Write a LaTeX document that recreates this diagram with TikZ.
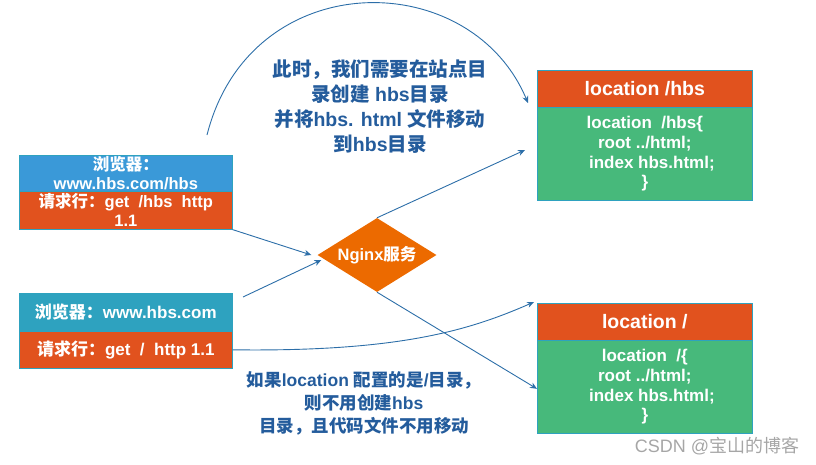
\documentclass[tikz,border=0pt]{standalone}
\usepackage{fontspec}
\setmainfont{Liberation Sans}
\newfontfamily\cjk{Noto Sans CJK SC}
\usetikzlibrary{arrows.meta, positioning, shapes.geometric}
\definecolor{webblue}{HTML}{3A99D8}
\definecolor{webteal}{HTML}{2EA2BF}
\definecolor{reqred}{HTML}{E1521E}
\definecolor{locgreen}{HTML}{47B97B}
\definecolor{ngxorange}{HTML}{EC6A00}
\definecolor{linkblue}{HTML}{2C6EA8}
\definecolor{notetext}{HTML}{245C9C}
\newcommand{\zh}[1]{{\cjk #1}}

\begin{document}
\begin{tikzpicture}[x=1pt, y=-1pt, font=\bfseries,
      cell/.style={draw=webteal, line width=0.6pt, text=white, align=center,
                   inner sep=0pt, anchor=north west},
      arr/.style={-{Stealth[length=7pt, width=6pt]}, draw=linkblue, line width=0.9pt},
      note/.style={align=center, text=notetext, font=\bfseries\fontsize{19.5}{25}\selectfont}]
    \useasboundingbox (0,0) rectangle (816,464);
    % browsers
    \node[cell, fill=webblue, minimum width=213pt, minimum height=36pt,
          font=\bfseries\fontsize{16.5}{19}\selectfont] (b1) at (19,155)
          {\zh{浏览器：}\\www.hbs.com/hbs};
    \node[cell, fill=reqred, minimum width=213pt, minimum height=38pt,
          font=\bfseries\fontsize{16.5}{19}\selectfont] (r1) at (19,191)
          {\zh{请求行：}get\ \ /hbs\ \ http\\1.1};
    \node[cell, fill=webteal, minimum width=213pt, minimum height=38pt,
          font=\bfseries\fontsize{17}{19}\selectfont] (b2) at (19,293)
          {\zh{浏览器：}www.hbs.com};
    \node[cell, fill=reqred, minimum width=213pt, minimum height=37pt,
          font=\bfseries\fontsize{17}{19}\selectfont] (r2) at (19,331)
          {\zh{请求行：}get\ \ /\ \ http 1.1};
    % nginx
    \node[diamond, fill=ngxorange, text=white, inner sep=0pt, aspect=1.6,
          minimum width=119pt, minimum height=74pt,
          font=\bfseries\fontsize{16.5}{19}\selectfont] (ngx) at (377,255)
          {Nginx\zh{服务}};
    % locations
    \node[cell, fill=reqred, minimum width=215pt, minimum height=37pt,
          font=\bfseries\fontsize{19.5}{22}\selectfont] (loc1h) at (537,70)
          {location /hbs};
    \node[cell, fill=locgreen, minimum width=215pt, minimum height=93pt,
          font=\bfseries\fontsize{17}{19.7}\selectfont] (loc1) at (537,107)
          {location\ \ /hbs\{\\root ../html;\\\ \ \ index hbs.html;\\\}};
    \node[cell, fill=reqred, minimum width=215pt, minimum height=37pt,
          font=\bfseries\fontsize{19.5}{22}\selectfont] (loc2h) at (537,303)
          {location /};
    \node[cell, fill=locgreen, minimum width=215pt, minimum height=93pt,
          font=\bfseries\fontsize{17}{19.7}\selectfont] (loc2) at (537,340)
          {location\ \ /\{\\root ../html;\\\ \ \ index hbs.html;\\\}};
    % notes
    \node[note] (n1) at (380,107)
          {\zh{此时，我们需要在站点目}\\\zh{录创建} hbs\zh{目录}\\\zh{并将}hbs. html \zh{文件移动}\\\zh{到}hbs\zh{目录}};
    \node[note, font=\bfseries\fontsize{17.5}{23}\selectfont] (n2) at (364,403)
          {\zh{如果}location \zh{配置的是}/\zh{目录，}\\\zh{则不用创建}hbs\\\zh{目录，且代码文件不用移动}};
    \node[text=gray!70, font=\fontsize{18}{20}\selectfont] (wm) at (717,446)
          {CSDN @\zh{宝山的博客}};
    % links
    \coordinate (a0) at (207,135);
    \coordinate (a1) at (528,103);
    \coordinate (s2) at (243,297);
    \coordinate (t1) at (525,150);
    \coordinate (t2) at (534,302);
    \draw[arr] (a0) .. controls (250,-35) and (470,-35) .. (a1);
    \draw[arr] (r1.south east) -- ([xshift=-6pt]ngx.west);
    \draw[arr] (s2) -- ([xshift=4pt, yshift=-5pt]ngx.west);
    \draw[arr] (ngx.north) -- (t1);
    \draw[arr] (ngx.south) -- ([yshift=-2pt]loc2.west);
    \draw[arr] (r2.east) .. controls (400,352) and (470,330) .. (t2);
\end{tikzpicture}
\end{document}
